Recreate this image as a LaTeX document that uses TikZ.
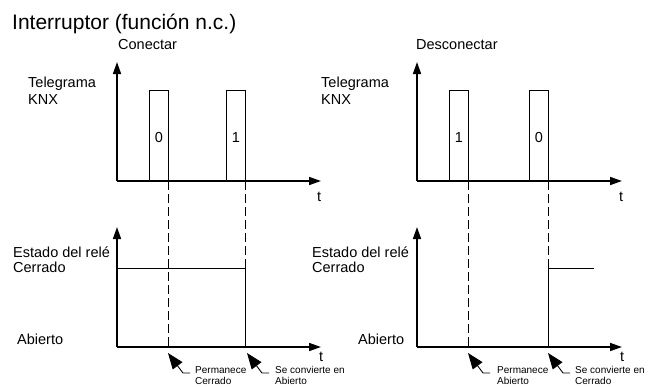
\documentclass[tikz,border=0pt]{standalone}
\usepackage{fontspec}
\setmainfont{Liberation Sans}
\usepackage{tikz}
\usetikzlibrary{arrows.meta}

\tikzset{
  axis/.style={line width=1.6pt, -{Triangle[length=12pt,width=8pt]}},
  pulse/.style={line width=1pt},
  guide/.style={line width=1pt, dash pattern=on 9pt off 4pt},
  relay/.style={line width=1pt},
  note/.style={line width=0.9pt, {Triangle[length=16pt,width=12pt]}-},
  lbl/.style={inner sep=0pt, anchor=base west, font=\fontsize{14.5}{17}\selectfont},
  small/.style={inner sep=0pt, anchor=base west, font=\fontsize{10}{11}\selectfont},
}

\begin{document}
\begin{tikzpicture}[x=1pt, y=-1pt]
  \useasboundingbox (0,0) rectangle (658,386);

  % Title
  \node[inner sep=0pt, anchor=base west, font=\fontsize{21}{24}\selectfont] (title) at (12,29) {Interruptor (función n.c.)};

  % Axes
  \coordinate (o1) at (117,181); \coordinate (y1) at (117,62);  \coordinate (x1) at (321,181);
  \coordinate (o2) at (117,347); \coordinate (y2) at (117,227); \coordinate (x2) at (321,347);
  \coordinate (o3) at (417,181); \coordinate (y3) at (417,62);  \coordinate (x3) at (622,181);
  \coordinate (o4) at (417,347); \coordinate (y4) at (417,227); \coordinate (x4) at (622,347);
  \draw[axis] (o1) -- (y1);
  \draw[axis] (o1) -- (x1);
  \draw[axis] (o2) -- (y2);
  \draw[axis] (o2) -- (x2);
  \draw[axis] (o3) -- (y3);
  \draw[axis] (o3) -- (x3);
  \draw[axis] (o4) -- (y4);
  \draw[axis] (o4) -- (x4);

  % Labels
  \node[lbl] (con) at (118,49) {Conectar};
  \node[lbl] (des) at (416,49) {Desconectar};
  \node[lbl] (tel1) at (28,87) {Telegrama};
  \node[lbl] (knx1) at (28,104) {KNX};
  \node[lbl] (tel2) at (321,87) {Telegrama};
  \node[lbl] (knx2) at (321,104) {KNX};
  \node[lbl] (est1) at (13,257) {Estado del relé};
  \node[lbl] (cer1) at (13,272) {Cerrado};
  \node[lbl] (abi1) at (17,344) {Abierto};
  \node[lbl] (est2) at (312,257) {Estado del relé};
  \node[lbl] (cer2) at (312,272) {Cerrado};
  \node[lbl] (abi2) at (358,344) {Abierto};
  \node[lbl] (t1) at (317,201) {t};
  \node[lbl] (t2) at (319,361) {t};
  \node[lbl] (t3) at (619,201) {t};
  \node[lbl] (t4) at (620,361) {t};

  % Telegrams
  \draw[pulse] (149,181) -- (149,90) -- (168,90) -- (168,181);
  \draw[pulse] (226,181) -- (226,90) -- (245,90) -- (245,181);
  \draw[pulse] (449,181) -- (449,90) -- (468,90) -- (468,181);
  \draw[pulse] (529,181) -- (529,90) -- (548,90) -- (548,181);
  \node[lbl, anchor=base] (b1) at (159,142) {0};
  \node[lbl, anchor=base] (b2) at (236,142) {1};
  \node[lbl, anchor=base] (b3) at (459,142) {1};
  \node[lbl, anchor=base] (b4) at (539,142) {0};

  % Guide lines
  \draw[guide] (168,181) -- (168,347);
  \draw[guide] (245,181) -- (245,268);
  \draw[guide] (468,181) -- (468,347);
  \draw[guide] (548,181) -- (548,268);

  % Relay state
  \draw[relay] (117,268) -- (245,268) -- (245,347);
  \draw[relay] (594,268) -- (548,268) -- (548,347);

  % Notes
  \coordinate (n1) at (168,353); \coordinate (n2) at (247,353);
  \coordinate (n3) at (468,353); \coordinate (n4) at (548,353);
  \draw[note] (n1) -- ++(15,20) -- ++(7,0);
  \draw[note] (n2) -- ++(15,20) -- ++(7,0);
  \draw[note] (n3) -- ++(15,20) -- ++(7,0);
  \draw[note] (n4) -- ++(15,20) -- ++(7,0);
  \node[small] (p1) at (195,373) {Permanece};
  \node[small] (p1b) at (195,384) {Cerrado};
  \node[small] (s1) at (275,373) {Se convierte en};
  \node[small] (s1b) at (275,384) {Abierto};
  \node[small] (p2) at (497,373) {Permanece};
  \node[small] (p2b) at (497,384) {Abierto};
  \node[small] (s2) at (575,373) {Se convierte en};
  \node[small] (s2b) at (575,384) {Cerrado};
\end{tikzpicture}
\end{document}
